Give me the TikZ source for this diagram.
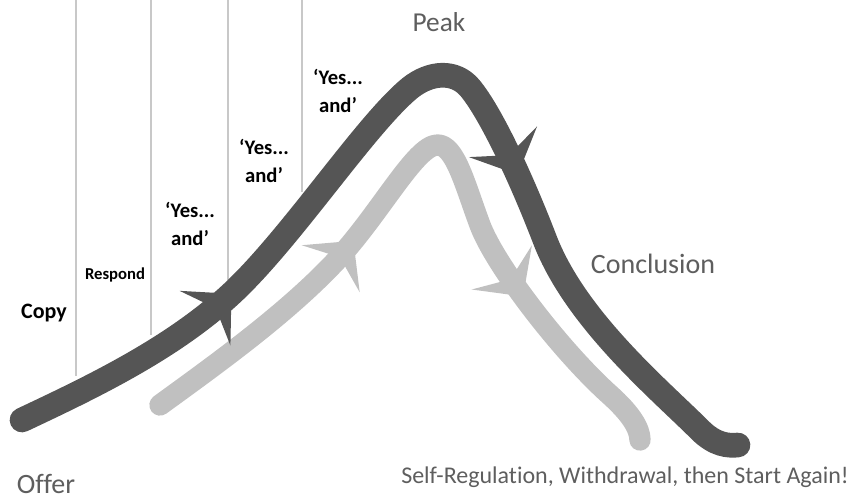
\documentclass[tikz,border=0pt]{standalone}
\usepackage{fontspec}
\setmainfont{Carlito}[Ligatures=NoCommon]
\usetikzlibrary{arrows.meta,decorations.markings}

\definecolor{darkarc}{HTML}{555555}
\definecolor{lightarc}{HTML}{C0C0C0}
\definecolor{guideline}{HTML}{C8C8C8}
\definecolor{labelgray}{HTML}{5E5E5E}

\tikzset{
    guide/.style={guideline, line width=0.9pt},
    darkpath/.style={darkarc, line width=18.5pt, line cap=round, line join=round},
    lightpath/.style={lightarc, line width=16pt, line cap=round, line join=round},
    headat/.style={postaction={decorate, decoration={markings,
        mark=at position #1 with {\arrow{Stealth[length=27pt, width=56pt, inset=11pt, line width=0pt]}}}}},
    stagelabel/.style={font=\bfseries\fontsize{15.5}{21}\selectfont, align=center, inner sep=0pt},
    phaselabel/.style={labelgray, inner sep=0pt},
}

\begin{document}
\begin{tikzpicture}[x=0.75pt, y=-0.75pt]
    \useasboundingbox (0,0) rectangle (851,501);

    % stage dividers
    \draw[guide] (76,0) -- (76,376);
    \draw[guide] (151,0) -- (151,335);
    \draw[guide] (228,0) -- (228,280);
    \draw[guide] (302,0) -- (302,192);

    % second (light) cycle
    \draw[lightpath, headat=0.34, headat=0.75] (160,405)
        .. controls (215,365) and (285,315) .. (335,262)
        .. controls (380,214) and (415,146) .. (437,145)
        .. controls (455,144) and (465,185) .. (480,225)
        .. controls (495,265) and (560,350) .. (610,395)
        .. controls (630,413) and (640,428) .. (640,440);

    % main (dark) cycle
    \draw[darkpath, headat=0.235, headat=0.655] (22,420)
        .. controls (90,388) and (170,350) .. (230,295)
        .. controls (290,240) and (365,125) .. (410,88)
        .. controls (430,72) and (455,70) .. (470,88)
        .. controls (490,112) and (520,175) .. (545,240)
        .. controls (576,320) and (660,390) .. (700,430)
        .. controls (715,445) and (728,446) .. (738,445);

    % labels
    \node[stagelabel, font=\bfseries\fontsize{16.5}{20}\selectfont] (copy) at (44,313) {Copy};
    \node[stagelabel, font=\bfseries\fontsize{12.5}{15}\selectfont] (respond) at (115,275) {Respond};
    \node[stagelabel] (yes1) at (190,224) {‘Yes...\\and’};
    \node[stagelabel] (yes2) at (264,161) {‘Yes...\\and’};
    \node[stagelabel] (yes3) at (338,91) {‘Yes...\\and’};
    \node[phaselabel, font=\fontsize{20.5}{23}\selectfont] (peak) at (439,22) {Peak};
    \node[phaselabel, font=\fontsize{21}{24}\selectfont] (offer) at (46,484) {Offer};
    \node[phaselabel, font=\fontsize{21}{24}\selectfont] (conclusion) at (653,264) {Conclusion};
    \node[phaselabel, font=\fontsize{18}{22}\selectfont] (restart) at (625,477) {Self-Regulation, Withdrawal, then Start Again!};
\end{tikzpicture}
\end{document}
